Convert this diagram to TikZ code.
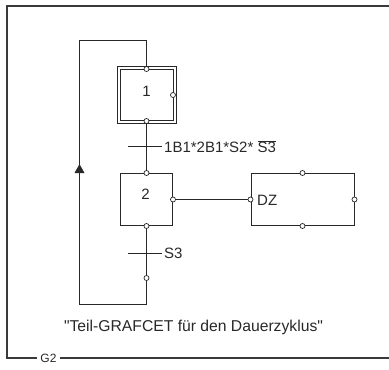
\documentclass[tikz,border=0pt]{standalone}
\usepackage{fontspec}
\setmainfont{Liberation Sans}
\begin{document}
\begin{tikzpicture}[x=1pt,y=-1pt]
\definecolor{lc}{RGB}{40,40,40}
\tikzset{
  ln/.style={draw=lc, line width=1pt},
  mainln/.style={draw=lc, line width=1.2pt},
  frm/.style={draw=lc!80!gray, line width=1.3pt},
  stepbox/.style={draw=lc, line width=1pt, inner sep=0pt, fill=white},
  cp/.style={circle, draw=lc, fill=white, line width=0.7pt, inner sep=0pt, minimum size=5pt},
  txt/.style={font=\fontsize{15}{17}\selectfont, text=lc, inner sep=0pt},
  tbar/.style={draw=lc, line width=1pt}
}
\useasboundingbox (0,0) rectangle (389,370);
% frame
\coordinate (ftr) at (389,6);
\coordinate (ftl) at (7,6);
\coordinate (fbl) at (7,358);
\coordinate (fg1) at (37,358);
\coordinate (fg2) at (60,358);
\coordinate (fbr) at (389,358);
\draw[frm] (ftr) -- (ftl) -- (fbl) -- (fg1);
\draw[frm] (fg2) -- (fbr);
\node[txt, font=\fontsize{12}{14}\selectfont] (g2) at (48.5,358) {G2};

% coordinates
\coordinate (lt1) at (146.5,40.5);
\coordinate (lt2) at (79.5,40.5);
\coordinate (lb1) at (146.5,304.5);
\coordinate (lb2) at (79.5,304.5);
\coordinate (tr1) at (146.5,146.5);
\coordinate (tr2) at (146.5,253.5);
\coordinate (tr1l) at (128,146.5);
\coordinate (tr1r) at (162,146.5);
\coordinate (tr2l) at (128,253.5);
\coordinate (tr2r) at (162,253.5);

% main line and loop (nodes are drawn on top)
\draw[mainln] (lt2) -- (lt1) -- (tr1) -- (tr2) -- (lb1) -- (lb2) -- cycle;
\fill[lc] (74.5,173) -- (84.5,173) -- (79.5,164) -- cycle;

% step 2 and DZ
\node[stepbox, minimum width=52pt, minimum height=52pt] (s2) at (146.5,199.5) {};
\node[stepbox, minimum width=103pt, minimum height=52pt] (dz) at (302.5,199.5) {};

% step 1 (initial)
\node[stepbox, minimum width=59pt, minimum height=57pt] (s1) at (146.5,94.5) {};
\node[stepbox, minimum width=53pt, minimum height=51pt] (s1i) at (146.5,94.5) {};

\draw[ln] (s2.east) -- (dz.west);

\node[txt] (l1) at (146.5,91) {1};
\node[txt] (l2) at (145.5,194) {2};
\node[txt, anchor=west] (ldz) at (257,200) {DZ};

% transitions
\draw[tbar] (tr1l) -- (tr1r);
\draw[tbar] (tr2l) -- (tr2r);
\node[txt, anchor=west] (tl1) at (164,146.5) {1B1*2B1*S2* $\overline{\mbox{S3}}$};
\node[txt, anchor=west] (tl2) at (164,253.5) {S3};

% connection points
\node[cp] (c1t) at (146.5,69) {};
\node[cp] (c1b) at (146.5,121) {};
\node[cp] (c1r) at (173,95) {};
\node[cp] (c2t) at (s2.north) {};
\node[cp] (c2b) at (s2.south) {};
\node[cp] (c2r) at (s2.east) {};
\node[cp] (cdt) at (dz.north) {};
\node[cp] (cdb) at (dz.south) {};
\node[cp] (cdl) at (dz.west) {};
\node[cp] (cdr) at (dz.east) {};
\node[cp] (cl) at (146.5,278) {};

% caption
\node[txt, font=\fontsize{15.7}{18}\selectfont] (cap) at (193.5,327) {\textquotedbl Teil-GRAFCET für den Dauerzyklus\textquotedbl};
\end{tikzpicture}
\end{document}
